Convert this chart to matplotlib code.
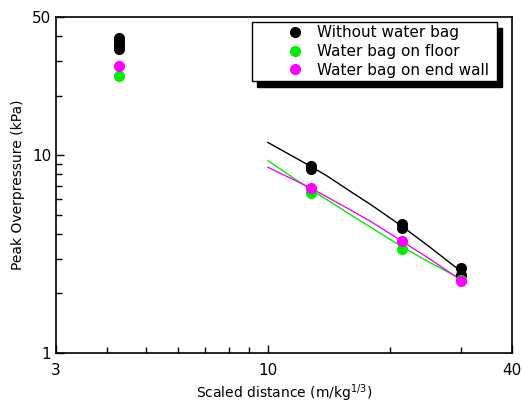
import matplotlib.pyplot as plt
from matplotlib.ticker import FixedLocator, NullFormatter

# measured points (scaled distance, peak overpressure)
x_without = [4.3, 4.3, 4.3, 4.3, 12.8, 12.8, 21.4, 21.4, 30, 30]
y_without = [39.2, 37.8, 36.1, 34.4, 8.8, 8.5, 4.5, 4.3, 2.68, 2.48]
x_floor = [4.3, 12.8, 21.4, 30]
y_floor = [25.2, 6.42, 3.34, 2.34]
x_wall = [4.3, 12.8, 21.4, 30]
y_wall = [28.2, 6.8, 3.68, 2.32]

# fitted curves
x_fit = [10, 12.8, 14, 16, 18, 21.4, 25, 30]
fit_without = [11.6, 8.75, 7.85, 6.55, 5.6, 4.38, 3.45, 2.58]
fit_floor = [9.38, 6.67, 5.95, 5.0, 4.3, 3.45, 2.88, 2.36]
fit_wall = [8.69, 6.8, 6.15, 5.28, 4.6, 3.68, 3.0, 2.33]

labels = ["Without water bag ", "Water bag on floor ", "Water bag on end wall "]
colors = ["black", "#00ee00", "#ff00ff"]

fig = plt.figure(figsize=(5.22, 4.03), dpi=100)
ax = fig.add_axes([0.1073, 0.124, 0.8735, 0.8338])

ax.plot(x_fit, fit_without, color=colors[0], lw=1)
ax.plot(x_fit, fit_floor, color=colors[1], lw=1)
ax.plot(x_fit, fit_wall, color=colors[2], lw=1)

ax.plot(x_without, y_without, "o", color=colors[0], ms=7, label=labels[0])
ax.plot(x_floor, y_floor, "o", color=colors[1], ms=7, label=labels[1])
ax.plot(x_wall, y_wall, "o", color=colors[2], ms=7, label=labels[2])

ax.set_xscale("log")
ax.set_yscale("log")
ax.set_xlim(3, 40)
ax.set_ylim(1, 50)

ax.xaxis.set_major_locator(FixedLocator([3, 10, 40]))
ax.xaxis.set_minor_locator(FixedLocator([4, 5, 6, 7, 8, 9, 20, 30]))
ax.set_xticklabels(["3", "10", "40"])
ax.xaxis.set_minor_formatter(NullFormatter())
ax.yaxis.set_major_locator(FixedLocator([1, 10, 50]))
ax.yaxis.set_minor_locator(FixedLocator([2, 3, 4, 5, 6, 7, 8, 9, 20, 30, 40]))
ax.set_yticklabels(["1", "10", "50"])
ax.yaxis.set_minor_formatter(NullFormatter())

ax.tick_params(which="both", direction="in", labelsize=11, top=False, right=False)
ax.tick_params(which="major", length=6, width=1)
ax.tick_params(which="minor", length=4, width=1)
ax.tick_params(axis="x", pad=7)
for s in ax.spines.values():
    s.set_linewidth(1.2)

ax.set_xlabel("Scaled distance (m/kg$^{1/3}$)", fontsize=10, labelpad=3)
ax.set_ylabel("Peak Overpressure (kPa)", fontsize=10, labelpad=5)

leg = ax.legend(loc="upper right", bbox_to_anchor=(0.967, 0.985), borderaxespad=0,
                fontsize=11, frameon=True, fancybox=False, framealpha=1,
                edgecolor="black", borderpad=0.2, handletextpad=-1.14,
                labelspacing=0.25, handlelength=5.2,
                shadow={"color": "black", "alpha": 1, "ox": 4, "oy": -4.5})
leg.get_frame().set_linewidth(1)

fig.savefig("out.png", dpi=100)
